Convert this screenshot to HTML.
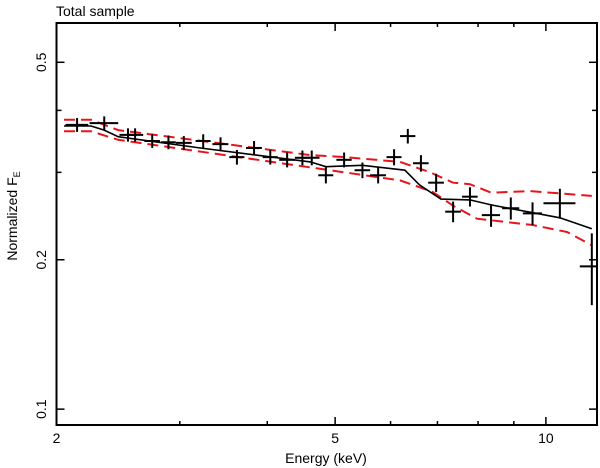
<!DOCTYPE html>
<html><head><meta charset="utf-8"><style>
body{margin:0;background:#fff}
svg{display:block;font-family:"Liberation Sans",sans-serif}
</style></head><body>
<svg id="chart" width="600" height="468">
<text x="56" y="16" font-size="14">Total sample</text>
<text x="326" y="463" font-size="14" text-anchor="middle">Energy (keV)</text>
<text transform="translate(17,216) rotate(-90)" font-size="14" text-anchor="middle">Normalized F<tspan font-size="9" dy="3">E</tspan></text>
<g id="plot"></g>
<rect x="56.5" y="23" width="540.5" height="402" fill="none" stroke="#000" stroke-width="2"/>
</svg>
<script>
const xTicksMajor=[2,5,10];
const xTicksMinor=[3,4,6,7,8,9];
const yTicksMajor=[0.1,0.2,0.5];
const yTicksMinor=[0.3,0.4];
const dataE=[2.14,2.34,2.53,2.59,2.74,2.89,3.04,3.24,3.43,3.62,3.83,4.04,4.27,4.49,4.63,4.85,5.15,5.47,5.76,6.07,6.35,6.63,6.97,7.37,7.79,8.35,8.91,9.57,10.47,11.63];
const dataEerr=[0.08,0.11,0.07,0.07,0.07,0.07,0.08,0.08,0.09,0.09,0.1,0.1,0.11,0.11,0.12,0.12,0.13,0.14,0.15,0.15,0.16,0.17,0.18,0.19,0.2,0.25,0.25,0.3,0.55,0.45];
const dataF=[0.374,0.377,0.357,0.357,0.347,0.345,0.344,0.347,0.342,0.322,0.336,0.322,0.318,0.321,0.321,0.296,0.318,0.303,0.296,0.322,0.355,0.313,0.286,0.250,0.268,0.246,0.254,0.248,0.260,0.194];
const dataFerr=[0.012,0.012,0.011,0.011,0.011,0.011,0.011,0.011,0.011,0.011,0.011,0.011,0.011,0.011,0.011,0.011,0.011,0.011,0.011,0.012,0.012,0.012,0.012,0.012,0.012,0.013,0.013,0.013,0.018,0.032];
const modelE=[2.05,2.24,2.34,2.45,3.21,4.61,4.85,5.47,6.29,6.6,7.08,7.79,8.35,10.47,11.63];
const modelF=[0.372,0.372,0.365,0.354,0.336,0.315,0.308,0.310,0.303,0.283,0.265,0.264,0.258,0.243,0.231];
const upperE=[2.05,2.24,2.45,4.61,5.16,6.19,6.84,7.37,7.79,8.35,9.49,11.63];
const upperF=[0.383,0.383,0.365,0.325,0.322,0.315,0.300,0.286,0.284,0.273,0.275,0.269];
const lowerE=[2.05,2.24,2.45,4.61,5.16,6.19,6.89,7.37,7.97,9.57,10.72,11.63];
const lowerF=[0.363,0.363,0.349,0.307,0.300,0.289,0.274,0.257,0.242,0.235,0.2275,0.214];

const L=56.5,R=597,T=23,B=425;
const xMin=2,xMax=11.83,yMin=0.0929,yMax=0.600;
const sx=v=>L+(Math.log10(v/xMin))/Math.log10(xMax/xMin)*(R-L);
const sy=v=>B-(Math.log10(v/yMin))/Math.log10(yMax/yMin)*(B-T);
const NS='http://www.w3.org/2000/svg';
const g=document.getElementById('plot');
function mk(tag,attrs){const e=document.createElementNS(NS,tag);for(const k in attrs)e.setAttribute(k,attrs[k]);g.appendChild(e);return e;}

xTicksMajor.forEach(v=>{
 const x=sx(v);
 const t=mk('line',{x1:x,x2:x,y1:B,y2:B-8,stroke:'#000','stroke-width':1.5});
 
 
 const t2=mk('line',{x1:x,x2:x,y1:T,y2:T+8,stroke:'#000','stroke-width':1.5});
 
 
 const l=mk('text',{x:x,y:443,'font-size':14,'text-anchor':'middle'});l.textContent=v;
 
 
});
xTicksMinor.forEach(v=>{
 const x=sx(v);
 const t=mk('line',{x1:x,x2:x,y1:B,y2:B-4,stroke:'#000','stroke-width':1.5});
 
 
 const t2=mk('line',{x1:x,x2:x,y1:T,y2:T+4,stroke:'#000','stroke-width':1.5});
 
 
});
yTicksMajor.forEach(v=>{
 const y=sy(v);
 const t=mk('line',{x1:L,x2:L+8,y1:y,y2:y,stroke:'#000','stroke-width':1.5});
 
 
 const t2=mk('line',{x1:R,x2:R-8,y1:y,y2:y,stroke:'#000','stroke-width':1.5});
 
 
 const l=mk('text',{x:0,y:0,'font-size':14,'text-anchor':'middle',transform:`translate(46,${y}) rotate(-90)`});l.textContent=v;
 
 
});
yTicksMinor.forEach(v=>{
 const y=sy(v);
 const t=mk('line',{x1:L,x2:L+5,y1:y,y2:y,stroke:'#000','stroke-width':1.5});
 
 
 const t2=mk('line',{x1:R,x2:R-5,y1:y,y2:y,stroke:'#000','stroke-width':1.5});
 
 
});
function pts(E,F){return E.map((e,i)=>sx(e).toFixed(1)+','+sy(F[i]).toFixed(1)).join(' ');}
const up=mk('polyline',{points:pts(upperE,upperF),fill:'none',stroke:'#e8141c','stroke-width':2,'stroke-dasharray':'11,6'});


const lo=mk('polyline',{points:pts(lowerE,lowerF),fill:'none',stroke:'#e8141c','stroke-width':2,'stroke-dasharray':'11,6'});


const md=mk('polyline',{points:pts(modelE,modelF),fill:'none',stroke:'#000','stroke-width':1.6});


dataE.forEach((e,i)=>{
 const x=sx(e),y=sy(dataF[i]);
 const h=mk('line',{x1:sx(e-dataEerr[i]),x2:sx(Math.min(e+dataEerr[i],xMax)),y1:y,y2:y,stroke:'#000','stroke-width':2});
 
 
 const v=mk('line',{x1:x,x2:x,y1:sy(dataF[i]-dataFerr[i]),y2:sy(dataF[i]+dataFerr[i]),stroke:'#000','stroke-width':2});
 
 
});
</script>
</body></html>
